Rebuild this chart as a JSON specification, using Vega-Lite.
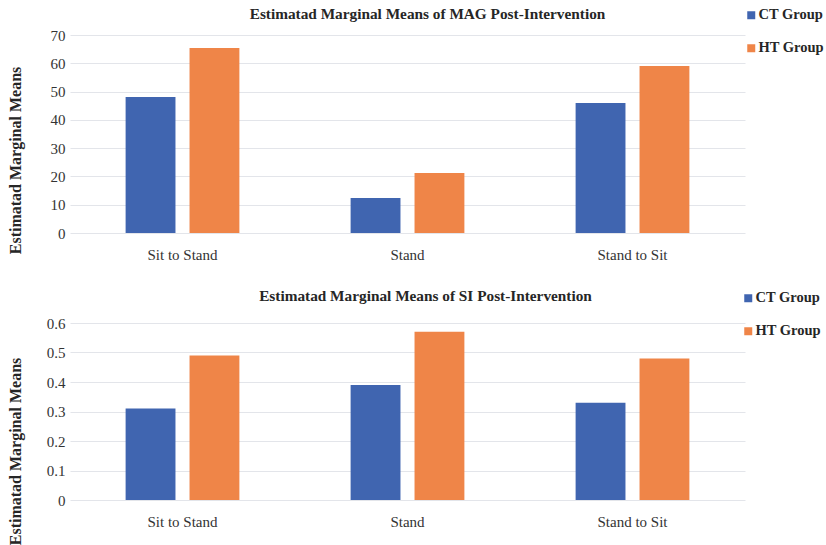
{
  "$schema": "https://vega.github.io/schema/vega-lite/v6.json",
  "background": "white",
  "padding": {"left": 6, "top": 6, "right": 0, "bottom": 0},
  "datasets": {
    "mag": [
      {"movement": "Sit to Stand", "group": "CT Group", "value": 48.1},
      {"movement": "Sit to Stand", "group": "HT Group", "value": 65.4},
      {"movement": "Stand", "group": "CT Group", "value": 12.4},
      {"movement": "Stand", "group": "HT Group", "value": 21.2},
      {"movement": "Stand to Sit", "group": "CT Group", "value": 46.0},
      {"movement": "Stand to Sit", "group": "HT Group", "value": 59.0}
    ],
    "si": [
      {"movement": "Sit to Stand", "group": "CT Group", "value": 0.31},
      {"movement": "Sit to Stand", "group": "HT Group", "value": 0.49},
      {"movement": "Stand", "group": "CT Group", "value": 0.39},
      {"movement": "Stand", "group": "HT Group", "value": 0.57},
      {"movement": "Stand to Sit", "group": "CT Group", "value": 0.33},
      {"movement": "Stand to Sit", "group": "HT Group", "value": 0.48}
    ]
  },
  "config": {
    "view": {"stroke": null},
    "font": "Liberation Serif",
    "axis": {
      "labelFont": "Liberation Serif",
      "labelFontSize": 15,
      "labelColor": "#333333",
      "titleFont": "Liberation Serif",
      "titleFontSize": 16,
      "titleFontWeight": "bold",
      "titleColor": "#262626",
      "domain": false,
      "ticks": false,
      "gridColor": "#e3e5ea",
      "gridWidth": 1
    },
    "axisX": {"grid": false, "labelPadding": 14, "labelAngle": 0},
    "axisY": {"labelPadding": 5},
    "legend": {
      "labelFont": "Liberation Serif",
      "labelFontSize": 14.5,
      "labelFontWeight": "bold",
      "labelColor": "#262626",
      "symbolType": "square",
      "symbolSize": 64,
      "symbolStrokeWidth": 0,
      "labelOffset": 0,
      "rowPadding": 18
    },
    "title": {
      "font": "Liberation Serif",
      "fontSize": 15.3,
      "fontWeight": "bold",
      "color": "#262626"
    }
  },
  "spacing": 26,
  "resolve": {"legend": {"color": "independent"}},
  "vconcat": [
    {
      "title": {"text": "Estimatad Marginal Means of MAG Post-Intervention", "dx": 20, "offset": -14},
      "width": 675,
      "height": 198,
      "data": {"name": "mag"},
      "mark": {"type": "bar"},
      "encoding": {
        "x": {
          "field": "movement", "type": "nominal",
          "sort": ["Sit to Stand", "Stand", "Stand to Sit"],
          "scale": {"paddingInner": 0, "paddingOuter": 0},
          "axis": {"title": null}
        },
        "xOffset": {
          "field": "group", "type": "nominal",
          "scale": {"paddingInner": 0.22, "paddingOuter": 0.87}
        },
        "y": {
          "field": "value", "type": "quantitative",
          "scale": {"domain": [0, 70]},
          "axis": {"values": [0, 10, 20, 30, 40, 50, 60, 70], "title": "Estimatad Marginal Means", "titleX": -47, "titleY": 125}
        },
        "color": {
          "field": "group", "type": "nominal",
          "scale": {"domain": ["CT Group", "HT Group"], "range": ["#4065b0", "#ef8548"]},
          "legend": {"title": null, "orient": "none", "legendX": 674, "legendY": -27}
        }
      }
    },
    {
      "title": {"text": "Estimatad Marginal Means of SI Post-Intervention", "dx": 18, "offset": -13},
      "width": 675,
      "height": 177,
      "data": {"name": "si"},
      "mark": {"type": "bar"},
      "encoding": {
        "x": {
          "field": "movement", "type": "nominal",
          "sort": ["Sit to Stand", "Stand", "Stand to Sit"],
          "scale": {"paddingInner": 0, "paddingOuter": 0},
          "axis": {"title": null}
        },
        "xOffset": {
          "field": "group", "type": "nominal",
          "scale": {"paddingInner": 0.22, "paddingOuter": 0.87}
        },
        "y": {
          "field": "value", "type": "quantitative",
          "scale": {"domain": [0, 0.6]},
          "axis": {"values": [0, 0.1, 0.2, 0.3, 0.4, 0.5, 0.6], "format": "~g", "title": "Estimatad Marginal Means", "titleX": -47, "titleY": 128}
        },
        "color": {
          "field": "group", "type": "nominal",
          "scale": {"domain": ["CT Group", "HT Group"], "range": ["#4065b0", "#ef8548"]},
          "legend": {"title": null, "orient": "none", "legendX": 671, "legendY": -32}
        }
      }
    }
  ]
}
